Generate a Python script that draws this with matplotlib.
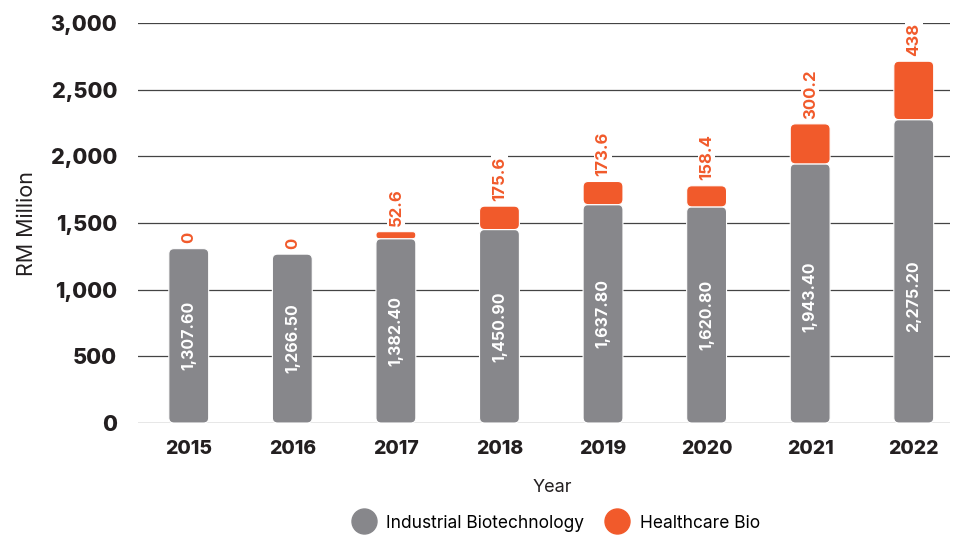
import matplotlib.pyplot as plt
from matplotlib.patches import FancyBboxPatch
from matplotlib.lines import Line2D

years = ['2015', '2016', '2017', '2018', '2019', '2020', '2021', '2022']
industrial = [1307.6, 1266.5, 1382.4, 1450.9, 1637.8, 1620.8, 1943.4, 2275.2]
healthcare = [0, 0, 52.6, 175.6, 173.6, 158.4, 300.2, 438]
ind_labels = ['1,307.60', '1,266.50', '1,382.40', '1,450.90', '1,637.80', '1,620.80', '1,943.40', '2,275.20']
hc_labels = ['0', '0', '52.6', '175.6', '173.6', '158.4', '300.2', '438']

GRAY = '#87878b'
ORANGE = '#f15a2b'
TXT = '#231f20'

plt.rcParams['font.family'] = ['Inter', 'DejaVu Sans']

fig = plt.figure(figsize=(9.56, 5.35), dpi=100)
ax = fig.add_axes([138/956, 1 - 423/535, 812/956, 400/535])

x = list(range(len(years)))
w = 0.385

b1 = ax.bar(x, industrial, width=w, color=GRAY)
b2 = ax.bar(x, healthcare, width=w, bottom=industrial, color=ORANGE)

# swap plain bars for rounded ones
for bars, col in [(b1, GRAY), (b2, ORANGE)]:
    for r in bars:
        r.set_visible(False)
        if r.get_height() <= 0:
            continue
        h = r.get_height()
        rs = min(0.05, h / 780 / 2.2)
        p = FancyBboxPatch((r.get_x(), r.get_y()), r.get_width(), h,
                           boxstyle=f'round,pad=0,rounding_size={rs}',
                           mutation_aspect=780, facecolor=col,
                           edgecolor='white', linewidth=0.8, zorder=3)
        ax.add_patch(p)

for i in x:
    ax.text(i, min(industrial[i] / 2, 950), ind_labels[i], rotation=90,
            ha='center', va='center', color='white', fontsize=11.5,
            fontweight='bold', zorder=4)
    top = industrial[i] + healthcare[i]
    ax.text(i, top + 40, hc_labels[i], rotation=90, ha='center', va='bottom',
            color=ORANGE, fontsize=12, fontweight='bold', zorder=4,
            bbox=dict(facecolor='white', edgecolor='none', pad=1))

ax.set_ylim(0, 3000)
ax.set_xlim(-0.49, 7.35)
ax.set_yticks(range(0, 3001, 500))
ax.set_yticklabels([f'{v:,}' for v in range(0, 3001, 500)], fontsize=15.5,
                   fontweight='heavy', color=TXT)
ax.set_xticks(x)
ax.set_xticklabels(years, fontsize=14, fontweight='heavy', color=TXT)
ax.tick_params(axis='y', length=0, pad=15)
ax.tick_params(axis='x', length=0, pad=12)
ax.grid(axis='y', color='#444444', linewidth=0.9, zorder=0)
ax.set_axisbelow(True)
for s in ax.spines.values():
    s.set_visible(False)

ax.set_ylabel('RM Million', fontsize=15.5, color=TXT, labelpad=10)
ax.set_xlabel('Year', fontsize=13, color=TXT, labelpad=16)
ax.xaxis.set_label_coords(0.51, -0.14)

handles = [Line2D([], [], marker='o', ls='none', markersize=18, color=GRAY),
           Line2D([], [], marker='o', ls='none', markersize=18, color=ORANGE)]
fig.legend(handles, ['Industrial Biotechnology', 'Healthcare Bio'],
           loc='center', bbox_to_anchor=(553/956, 1 - 523/535), ncol=2,
           frameon=False, fontsize=12.5, handletextpad=0.3, columnspacing=0.9)

fig.savefig('out.png', dpi=100)
